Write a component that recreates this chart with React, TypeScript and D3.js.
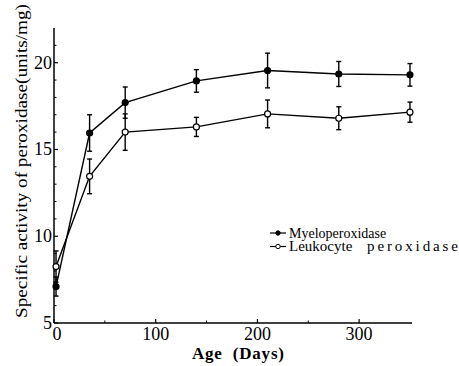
import * as d3 from "d3";

// Age in days at each sampling point
const days = [2, 35, 70, 140, 210, 280, 350];

// Myeloperoxidase (filled circles)
const myeloMean = [7.1, 15.95, 17.7, 18.95, 19.55, 19.35, 19.3];
const myeloErr = [0.55, 1.05, 0.9, 0.65, 1.0, 0.72, 0.65];

// Leukocyte peroxidase (open circles)
const leukoMean = [8.25, 13.45, 16.0, 16.3, 17.05, 16.8, 17.15];
const leukoErr = [0.9, 1.0, 1.05, 0.55, 0.8, 0.66, 0.58];

const xMajorTicks = [0, 100, 200, 300];
const xMinorTicks = [50, 150, 250];
const yMajorTicks = [5, 10, 15, 20];
const yMinorTicks = [6, 7, 8, 9, 11, 12, 13, 14, 16, 17, 18, 19, 21];

const legendLabels = ["Myeloperoxidase", "Leukocyte peroxidase"];

const width = 459;
const height = 366;
const margin = { top: 28, right: 47, bottom: 43, left: 54 };
const font = "'Liberation Serif', 'Times New Roman', serif";

// rough widths of the legend words in the scan (null = natural width)
const legendWordWidths = [[null], [null, 91]];
const legendWordStarts = [[289], [289, 367]];

export default function App() {
  const x = d3
    .scaleLinear()
    .domain([0, 352])
    .range([margin.left, width - margin.right]);
  const y = d3
    .scaleLinear()
    .domain([5, 22])
    .range([height - margin.bottom, margin.top]);

  const line = d3
    .line<number>()
    .x((_, i) => x(days[i]))
    .y((d) => y(d));

  const series = [
    { mean: myeloMean, err: myeloErr, filled: true },
    { mean: leukoMean, err: leukoErr, filled: false },
  ];

  const x0 = x(0);
  const yBase = y(5);

  return (
    <svg
      width={width}
      height={height}
      style={{ position: "absolute", left: 0, top: 0, background: "#fff" }}
      fontFamily={font}
    >
      {/* Axes */}
      <line x1={x0} x2={x0} y1={y(22)} y2={yBase} stroke="#000" strokeWidth={1.5} />
      <line x1={x0} x2={x(352)} y1={yBase} y2={yBase} stroke="#000" strokeWidth={1.5} />

      {yMajorTicks.map((t) => (
        <g key={"ym" + t}>
          <line x1={x0} x2={x0 + 4} y1={y(t)} y2={y(t)} stroke="#000" strokeWidth={1.2} />
          <text x={x0 - 2} y={y(t) + 6} textAnchor="end" fontSize={18}>
            {t}
          </text>
        </g>
      ))}
      {yMinorTicks.map((t) => (
        <line key={"yn" + t} x1={x0} x2={x0 + 2.5} y1={y(t)} y2={y(t)} stroke="#000" strokeWidth={1} />
      ))}

      {xMajorTicks.map((t) => (
        <g key={"xm" + t}>
          <line x1={x(t)} x2={x(t)} y1={yBase} y2={yBase - 4} stroke="#000" strokeWidth={1.2} />
          <text x={x(t) + (t === 0 ? 3 : 0)} y={yBase + 17} textAnchor="middle" fontSize={18}>
            {t}
          </text>
        </g>
      ))}
      {xMinorTicks.map((t) => (
        <line key={"xn" + t} x1={x(t)} x2={x(t)} y1={yBase} y2={yBase - 2.5} stroke="#000" strokeWidth={1} />
      ))}

      {/* Axis titles */}
      <text
        x={192}
        y={359}
        fontSize={17}
        fontWeight="bold"
        textLength={92}
        lengthAdjust="spacing"
      >
        Age{"\u00a0\u00a0"}(Days)
      </text>
      <text
        transform={`translate(27,${318}) rotate(-90)`}
        fontSize={17}
        textLength={314}
        lengthAdjust="spacingAndGlyphs"
      >
        Specific activity of peroxidase(units/mg)
      </text>

      {/* Series */}
      {series.map((s, si) => (
        <g key={si}>
          <path d={line(s.mean) || ""} fill="none" stroke="#000" strokeWidth={1.4} />
          {s.mean.map((m, i) => (
            <g key={i} stroke="#000" strokeWidth={1.4}>
              <line x1={x(days[i])} x2={x(days[i])} y1={y(m - s.err[i])} y2={y(m + s.err[i])} />
              <line x1={x(days[i]) - 2.5} x2={x(days[i]) + 2.5} y1={y(m - s.err[i])} y2={y(m - s.err[i])} />
              <line x1={x(days[i]) - 2.5} x2={x(days[i]) + 2.5} y1={y(m + s.err[i])} y2={y(m + s.err[i])} />
              <circle
                cx={x(days[i])}
                cy={y(m)}
                r={3}
                fill={s.filled ? "#000" : "#fff"}
                strokeWidth={1.2}
              />
            </g>
          ))}
        </g>
      ))}

      {/* Legend */}
      {legendLabels.map((lab, i) => {
        const ly = 233 + i * 13.5;
        const words = lab.split(" ");
        return (
          <g key={lab}>
            <line x1={270} x2={286} y1={ly} y2={ly} stroke="#000" strokeWidth={1.2} />
            <circle
              cx={278}
              cy={ly}
              r={2.2}
              fill={i === 0 ? "#000" : "#fff"}
              stroke="#000"
              strokeWidth={1}
            />
            {words.map((w, wi) => {
              const wl = legendWordWidths[i][wi];
              return (
                <text
                  key={w}
                  x={legendWordStarts[i][wi]}
                  y={ly + 4.5}
                  fontSize={i === 0 ? 14 : 15}
                  textLength={wl ?? undefined}
                  lengthAdjust={wl ? "spacing" : undefined}
                >
                  {w}
                </text>
              );
            })}
          </g>
        );
      })}
    </svg>
  );
}
